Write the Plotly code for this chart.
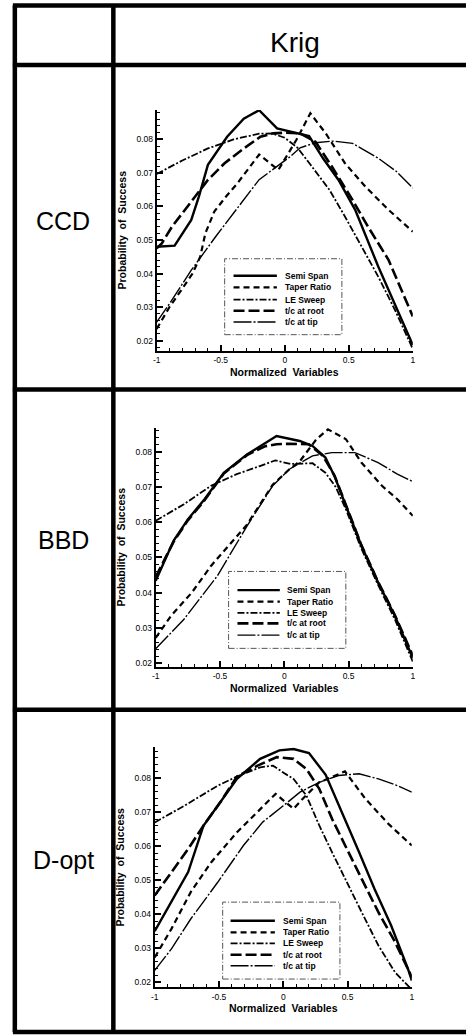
import plotly.graph_objects as go

W, H = 469, 1036


def px(x):
    return x / W


def py(y):
    return 1 - y / H


# ---------------- text ----------------
header = "Krig"
row_labels = ["CCD", "BBD", "D-opt"]
series_names = ["Semi Span", "Taper Ratio", "LE Sweep", "t/c at root", "t/c at tip"]
x_title = "Normalized  Variables"
y_title = "Probability  of  Success"
x_ticks = [-1, -0.5, 0, 0.5, 1]
x_tick_text = ["-1", "-0.5", "0", "0.5", "1"]
y_ticks = [0.02, 0.03, 0.04, 0.05, 0.06, 0.07, 0.08]
y_tick_text = ["0.02", "0.03", "0.04", "0.05", "0.06", "0.07", "0.08"]

# ---------------- data: CCD ----------------
ccd_semi_x = [-1, -0.86, -0.73, -0.67, -0.6, -0.45, -0.32, -0.2, -0.06, 0.04, 0.19, 0.3, 0.42, 0.55, 0.73, 1]
ccd_semi_y = [0.048, 0.0483, 0.056, 0.063, 0.0724, 0.0808, 0.0862, 0.0887, 0.0833, 0.0823, 0.081, 0.0743, 0.0679, 0.059, 0.0421, 0.0187]
ccd_taper_x = [-1, -0.9, -0.8, -0.72, -0.66, -0.62, -0.55, -0.46, -0.37, -0.27, -0.2, -0.1, -0.05, 0.09, 0.2, 0.32, 0.47, 0.63, 0.81, 1]
ccd_taper_y = [0.0235, 0.030, 0.0355, 0.040, 0.045, 0.052, 0.0585, 0.0629, 0.0669, 0.0718, 0.0755, 0.0724, 0.0709, 0.0798, 0.0878, 0.0818, 0.0729, 0.0659, 0.059, 0.0525]
ccd_le_x = [-1, -0.8, -0.6, -0.4, -0.2, -0.1, 0.0, 0.1, 0.2, 0.35, 0.47, 0.6, 0.73, 0.86, 1]
ccd_le_y = [0.0697, 0.0737, 0.0773, 0.0800, 0.0817, 0.0818, 0.0805, 0.0775, 0.0725, 0.0649, 0.057, 0.048, 0.0391, 0.0292, 0.0175]
ccd_root_x = [-1, -0.96, -0.88, -0.78, -0.68, -0.6, -0.47, -0.32, -0.19, -0.09, 0.0, 0.12, 0.24, 0.37, 0.53, 0.65, 0.81, 1]
ccd_root_y = [0.0475, 0.049, 0.054, 0.059, 0.064, 0.0679, 0.0729, 0.0773, 0.0808, 0.0818, 0.082, 0.0818, 0.0793, 0.0718, 0.0619, 0.054, 0.0441, 0.0272]
ccd_tip_x = [-1, -0.9, -0.73, -0.53, -0.2, 0.04, 0.12, 0.24, 0.38, 0.53, 0.73, 0.87, 1]
ccd_tip_y = [0.0255, 0.031, 0.041, 0.0515, 0.068, 0.0748, 0.0775, 0.079, 0.0795, 0.0788, 0.0744, 0.0705, 0.0655]

# ---------------- data: BBD ----------------
bbd_semi_x = [-1, -0.86, -0.75, -0.62, -0.47, -0.29, -0.06, 0.12, 0.22, 0.32, 0.39, 0.48, 0.6, 0.73, 0.86, 1]
bbd_semi_y = [0.0434, 0.0548, 0.0608, 0.0665, 0.074, 0.0792, 0.0844, 0.083, 0.0816, 0.0783, 0.0731, 0.0646, 0.0533, 0.0429, 0.0335, 0.0215]
bbd_taper_x = [-1, -0.88, -0.72, -0.57, -0.29, -0.09, 0.04, 0.12, 0.25, 0.34, 0.48, 0.6, 0.76, 0.88, 1]
bbd_taper_y = [0.0272, 0.0335, 0.040, 0.0476, 0.0593, 0.0706, 0.075, 0.0772, 0.0835, 0.0863, 0.0835, 0.0769, 0.0703, 0.0665, 0.0618]
bbd_le_x = [-1, -0.78, -0.57, -0.37, -0.19, -0.07, 0.05, 0.22, 0.32, 0.4, 0.48, 0.6, 0.73, 0.86, 1]
bbd_le_y = [0.0604, 0.0651, 0.0703, 0.0736, 0.0759, 0.0775, 0.0765, 0.0767, 0.074, 0.070, 0.0636, 0.0525, 0.0422, 0.0325, 0.0205]
bbd_root_x = [-1, -0.86, -0.75, -0.62, -0.47, -0.29, -0.15, -0.06, 0.04, 0.19, 0.3, 0.39, 0.48, 0.6, 0.73, 0.86, 1]
bbd_root_y = [0.0445, 0.0545, 0.0605, 0.0662, 0.0738, 0.079, 0.0815, 0.0821, 0.0822, 0.0821, 0.0788, 0.0733, 0.0648, 0.0535, 0.0431, 0.0337, 0.0222]
bbd_tip_x = [-1, -0.78, -0.52, -0.29, -0.09, 0.04, 0.22, 0.37, 0.55, 0.73, 0.88, 1]
bbd_tip_y = [0.0241, 0.0325, 0.0448, 0.0589, 0.0703, 0.075, 0.0788, 0.0797, 0.0797, 0.0769, 0.0736, 0.0715]

# ---------------- data: D-opt ----------------
dopt_semi_x = [-1, -0.87, -0.74, -0.62, -0.49, -0.36, -0.18, -0.03, 0.08, 0.2, 0.33, 0.48, 0.59, 0.71, 0.84, 0.97, 1]
dopt_semi_y = [0.035, 0.0435, 0.0524, 0.0661, 0.0729, 0.0798, 0.0857, 0.0882, 0.0886, 0.0874, 0.081, 0.068, 0.0582, 0.0474, 0.0366, 0.0239, 0.0205]
dopt_taper_x = [-1, -0.87, -0.72, -0.56, -0.36, -0.18, -0.06, 0.08, 0.15, 0.28, 0.48, 0.64, 0.82, 1]
dopt_taper_y = [0.0273, 0.0357, 0.0465, 0.0553, 0.0641, 0.071, 0.0754, 0.071, 0.0739, 0.0788, 0.082, 0.0739, 0.0665, 0.0602]
dopt_le_x = [-1, -0.77, -0.51, -0.36, -0.18, -0.08, 0.02, 0.08, 0.18, 0.28, 0.38, 0.48, 0.61, 0.74, 0.87, 1]
dopt_le_y = [0.067, 0.0719, 0.0778, 0.0805, 0.0832, 0.0837, 0.0812, 0.0798, 0.0749, 0.0661, 0.0582, 0.0504, 0.0406, 0.0308, 0.0229, 0.0178]
dopt_root_x = [-1, -0.87, -0.74, -0.62, -0.49, -0.36, -0.2, -0.05, 0.08, 0.18, 0.28, 0.38, 0.48, 0.61, 0.74, 0.87, 1]
dopt_root_y = [0.0455, 0.0524, 0.0592, 0.0661, 0.0729, 0.0805, 0.0837, 0.0862, 0.0857, 0.0827, 0.0769, 0.068, 0.0602, 0.0504, 0.0406, 0.0318, 0.0215]
dopt_tip_x = [-1, -0.87, -0.72, -0.51, -0.31, -0.16, 0.0, 0.13, 0.28, 0.43, 0.59, 0.74, 0.89, 1]
dopt_tip_y = [0.0235, 0.0298, 0.0386, 0.0494, 0.0602, 0.0671, 0.0719, 0.0759, 0.0788, 0.0808, 0.0813, 0.0798, 0.0778, 0.0759]

panel_data = [
    [(ccd_semi_x, ccd_semi_y), (ccd_taper_x, ccd_taper_y), (ccd_le_x, ccd_le_y), (ccd_root_x, ccd_root_y), (ccd_tip_x, ccd_tip_y)],
    [(bbd_semi_x, bbd_semi_y), (bbd_taper_x, bbd_taper_y), (bbd_le_x, bbd_le_y), (bbd_root_x, bbd_root_y), (bbd_tip_x, bbd_tip_y)],
    [(dopt_semi_x, dopt_semi_y), (dopt_taper_x, dopt_taper_y), (dopt_le_x, dopt_le_y), (dopt_root_x, dopt_root_y), (dopt_tip_x, dopt_tip_y)],
]

# ---------------- styles / layout geometry ----------------
line_styles = [
    dict(color="black", width=2.4, dash="solid"),
    dict(color="black", width=2.2, dash="6px,4px"),
    dict(color="black", width=1.8, dash="7px,2px,2px,2px"),
    dict(color="black", width=2.6, dash="11px,4px"),
    dict(color="black", width=1.4, dash="18px,2px,2px,2px"),
]

panels = [
    dict(x0=155, x1=415, top=110, bot=351, yr=[0.017, 0.0888], label_y=221,
         leg_box=(224, 343, 259, 335), leg_rows=[276, 287.7, 300, 311, 322.3], leg_line=(233, 277), leg_text=283),
    dict(x0=154, x1=415, top=428, bot=667.5, yr=[0.019, 0.0868], label_y=541,
         leg_box=(228, 347, 572, 649), leg_rows=[590.7, 602.3, 613.5, 624, 635.7], leg_line=(237, 280), leg_text=285),
    dict(x0=153, x1=414, top=748, bot=988.3, yr=[0.0185, 0.0891], label_y=861,
         leg_box=(222, 341, 903, 980), leg_rows=[921.7, 933.3, 944.3, 955.7, 966.7], leg_line=(230, 275), leg_text=281),
]

fig = go.Figure()
layout = dict(
    width=W, height=H, margin=dict(l=0, r=0, t=0, b=0),
    paper_bgcolor="white", plot_bgcolor="white", showlegend=False,
    font=dict(family="Liberation Sans, Arial, sans-serif", color="black"),
)
shapes = []
annotations = []

for i, (p, series) in enumerate(zip(panels, panel_data)):
    n = "" if i == 0 else str(i + 1)
    for (xs, ys), name, st in zip(series, series_names, line_styles):
        fig.add_trace(go.Scatter(x=xs, y=ys, mode="lines", name=name, line=st,
                                 xaxis="x" + n, yaxis="y" + n))
    layout["xaxis" + n] = dict(
        domain=[px(p["x0"]), px(p["x1"])], range=[-1, 1], anchor="y" + n,
        showline=True, linecolor="black", linewidth=2, showgrid=False, zeroline=False,
        ticks="inside", ticklen=6, tickwidth=1.5, tickcolor="black",
        tickvals=x_ticks, ticktext=x_tick_text, tickfont=dict(size=8.5),
        minor=dict(ticks="inside", dtick=0.1, tick0=-1, ticklen=3, tickwidth=1, tickcolor="black", showgrid=False),
    )
    layout["yaxis" + n] = dict(
        domain=[py(p["bot"]), py(p["top"])], range=p["yr"], anchor="x" + n,
        showline=True, linecolor="black", linewidth=2, showgrid=False, zeroline=False,
        ticks="inside", ticklen=6, tickwidth=1.5, tickcolor="black",
        tickvals=y_ticks, ticktext=y_tick_text, tickfont=dict(size=8.5),
        minor=dict(ticks="inside", dtick=0.002, tick0=0.02, ticklen=3, tickwidth=1, tickcolor="black", showgrid=False),
    )
    # axis titles
    annotations.append(dict(text="<b>%s</b>" % y_title, x=px(p["x0"] - 35), y=py((p["top"] + p["bot"]) / 2),
                            xref="paper", yref="paper", showarrow=False, textangle=-90,
                            font=dict(size=10.5), xanchor="center", yanchor="middle"))
    annotations.append(dict(text="<b>%s</b>" % x_title, x=px((p["x0"] + p["x1"]) / 2), y=py(p["bot"] + 21),
                            xref="paper", yref="paper", showarrow=False,
                            font=dict(size=10.5), xanchor="center", yanchor="middle"))
    # row label
    annotations.append(dict(text=row_labels[i], x=px(60), y=py(p["label_y"]), xref="paper", yref="paper",
                            showarrow=False, font=dict(size=25), xanchor="center", yanchor="middle"))
    # legend box
    bx0, bx1, by0, by1 = p["leg_box"]
    shapes.append(dict(type="rect", xref="paper", yref="paper", x0=px(bx0), x1=px(bx1), y0=py(by1), y1=py(by0),
                       line=dict(color="#555", width=1, dash="6px,2px,1px,2px"), fillcolor="rgba(0,0,0,0)"))
    lx0, lx1 = p["leg_line"]
    for yy, name, st in zip(p["leg_rows"], series_names, line_styles):
        shapes.append(dict(type="line", xref="paper", yref="paper", x0=px(lx0), x1=px(lx1), y0=py(yy), y1=py(yy),
                           line=st))
        annotations.append(dict(text="<b>%s</b>" % name, x=px(p["leg_text"]), y=py(yy), xref="paper", yref="paper",
                                showarrow=False, font=dict(size=8.5), xanchor="left", yanchor="middle"))

# header text
annotations.append(dict(text=header, x=px(295), y=py(43), xref="paper", yref="paper", showarrow=False,
                        font=dict(size=28), xanchor="center", yanchor="middle"))

# table lines
for yy in [5.5, 65, 390, 710.5, 1033]:
    shapes.append(dict(type="line", xref="paper", yref="paper", x0=px(9), x1=px(469), y0=py(yy), y1=py(yy),
                       line=dict(color="black", width=4.5)))
for xx in [11, 111]:
    shapes.append(dict(type="line", xref="paper", yref="paper", x0=px(xx), x1=px(xx), y0=py(5.5), y1=py(1033),
                       line=dict(color="black", width=4.5)))

layout["shapes"] = shapes
layout["annotations"] = annotations
fig.update_layout(**layout)
fig.write_html("out.html", config={"displayModeBar": False},
               post_script="document.body.style.margin='0';document.body.style.overflow='hidden';")
